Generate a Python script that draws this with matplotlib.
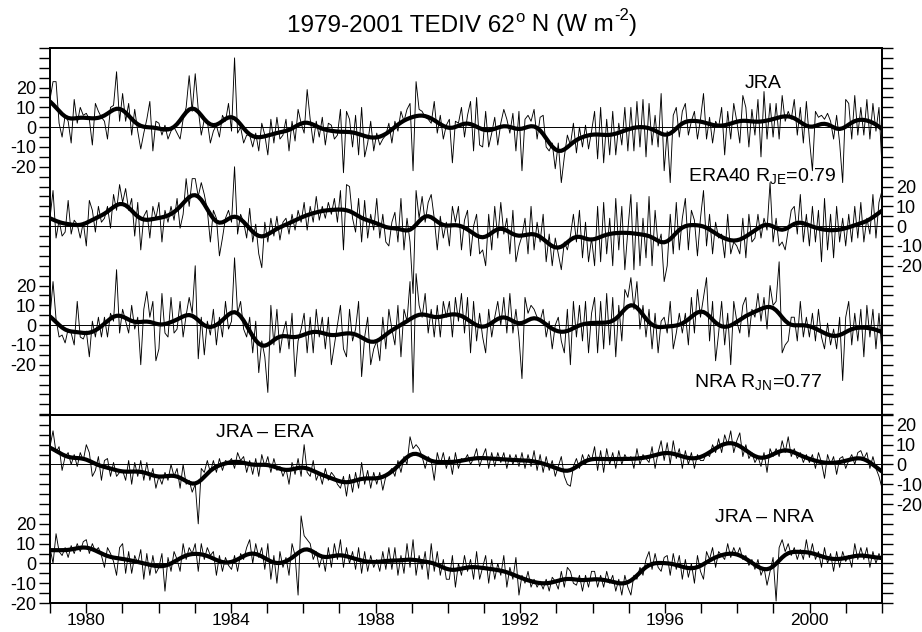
import numpy as np
import matplotlib
matplotlib.use("Agg")
import matplotlib.pyplot as plt
from matplotlib.ticker import FuncFormatter, MultipleLocator

plt.rcParams["font.family"] = ["Liberation Sans", "DejaVu Sans"]
plt.rcParams["mathtext.fontset"] = "custom"
plt.rcParams["mathtext.rm"] = "Liberation Sans"
plt.rcParams["mathtext.it"] = "Liberation Sans:italic"

# monthly TEDIV anomalies (W m-2), Jan 1979 .. Dec 2001, one row per year
jra = [
    [14, 23, 23, 2, -5, 6, 3, -8, 14, 2, 10, 6],
    [7, 4, -9, 12, 8, 5, 3, -6, 10, 11, 28, 3],
    [17, 3, 12, -4, 9, -2, -11, -3, 4, 13, -12, 3],
    [2, -4, 1, -6, -2, 0, -3, -6, 4, 10, 26, 8],
    [27, 9, -4, 4, 3, -8, -2, 1, -5, 6, 3, 12],
    [-2, 35, -3, 0, -8, -4, -4, -10, -3, -12, 2, -4],
    [-14, 4, -8, 5, -6, -4, 4, -12, 3, -7, 9, 2],
    [-3, 19, 4, -8, 3, -5, 5, -9, 2, 1, -6, -4],
    [9, -23, 8, 4, -10, 6, -14, 10, -15, -8, 3, -12],
    [-3, -9, -6, -4, 2, -8, 3, -2, 8, 3, 9, 12],
    [-22, 23, 9, 8, 5, 4, 2, 13, -3, 6, -6, 1],
    [4, -18, 3, 2, 10, -5, 6, 13, -12, 15, -9, -10],
    [8, -10, -3, 5, -9, 2, 9, 4, -3, 7, -12, 8],
    [-22, 4, 6, 3, 9, -6, 5, 6, -10, -12, -8, -21],
    [-8, -28, -15, -4, -9, 2, -13, 0, -10, 1, -11, -2],
    [8, -16, 10, -18, 4, -14, 8, -14, 2, -9, 10, -12],
    [10, -12, 13, -10, 14, -15, 12, -9, 6, -10, 17, -22],
    [-2, -28, 6, 10, -5, 8, 12, -4, 3, 8, -6, 4],
    [17, -6, 5, -8, 3, 0, 10, -14, 8, -6, 12, 3],
    [-8, 16, 10, -10, 9, -4, 14, -15, 18, -6, 12, -5],
    [12, -6, 16, 3, 8, 4, 14, -4, 10, -8, 13, -6],
    [-22, 8, 5, 6, 4, 7, 3, -6, 6, -8, -28, 14],
    [12, -6, 16, -4, 10, -4, 14, -6, 12, -2, 10, -20],
]
era = [
    [4, 18, -6, 3, -5, -3, 13, -4, 3, 1, -6, 2],
    [-10, 13, 8, -3, 10, 2, 4, 10, -1, 16, 8, 21],
    [12, 19, 8, 14, -5, 12, -12, 5, 8, -6, 10, 4],
    [12, -8, 8, 2, 10, 3, 14, -1, 6, 24, 10, 24],
    [24, 15, 22, 16, 8, -8, 8, 4, -15, -6, 4, 8],
    [2, 30, -4, 6, 2, -6, 9, -8, 1, -14, -21, 2],
    [-8, 4, -5, 5, -7, 2, 4, -4, 6, -2, 8, 2],
    [12, -2, 10, 2, 15, 3, 10, 4, 12, 6, 14, 2],
    [18, -12, 21, 20, 4, -3, 14, -8, 13, -6, 6, -2],
    [14, -6, 6, -8, -10, 2, 7, -8, 14, -12, 4, -8],
    [-34, 18, 4, 15, 2, 12, 16, 4, -12, 5, -6, 2],
    [-10, 10, 2, 10, -12, 3, 8, -15, 0, 6, -14, -12],
    [-20, 6, -12, 10, -6, 12, -4, 4, -14, 8, -18, -10],
    [-5, 4, -14, 10, -12, 2, -8, 6, -18, -4, -20, -6],
    [-14, -22, -8, -12, -5, 6, -8, 8, -16, 2, -18, -6],
    [-20, 10, -18, 12, -14, 4, -20, 14, -12, 10, -22, -2],
    [16, -22, 12, -20, 4, -16, 15, -20, 8, -10, -4, -28],
    [-20, 6, -14, 12, -12, 4, 14, -12, 8, 3, -15, 4],
    [18, -10, 6, -14, 2, -6, -4, -16, 6, -14, -8, -10],
    [-14, 4, -16, 6, -8, -6, 6, -6, 4, -2, 22, -8],
    [4, -10, -8, -12, -2, 8, 10, -4, 16, -8, 6, -10],
    [10, -8, 8, -18, 14, -12, 6, -16, 10, -8, 4, -10],
    [6, -8, 10, -6, 12, -8, 4, -4, 16, -6, 12, 18],
]
nra = [
    [4, 22, 3, -6, -5, -9, -2, -4, -10, 12, -6, -7],
    [-3, -16, 2, -6, 4, -6, 4, -6, 6, 2, 28, -4],
    [8, 2, -4, 10, -2, 4, -20, 8, 17, 4, 12, -18],
    [-12, 16, -4, -6, 14, -4, -2, 12, -6, 5, 14, 6],
    [30, -17, 4, -15, 2, -5, 8, -10, 4, -6, 12, -2],
    [2, 34, 6, 12, -2, -6, 4, -14, 2, -24, -8, -16],
    [-34, 10, -10, 8, -14, -4, 2, -12, 6, -26, -8, -2],
    [6, -14, 4, -14, 8, -6, 4, -12, 4, -20, -10, 0],
    [10, -12, -16, 8, -8, -2, 12, -26, -6, 4, -20, -12],
    [-8, -18, 4, -12, 8, -2, -10, 10, -16, 8, 2, 22],
    [-34, 26, 10, 4, 16, -4, 8, -6, 10, -6, 12, 4],
    [12, -6, 14, 2, 16, -4, 14, -14, 12, -8, 6, -6],
    [-14, 8, -6, 4, 12, 0, 14, -4, 16, -4, 8, -6],
    [-27, 14, 6, 10, 8, 4, 2, 8, -6, 2, -12, 0],
    [4, -8, -14, 8, -20, 12, -6, 10, -8, 12, -14, 6],
    [14, -14, 12, -12, 16, -10, 14, -16, 10, -8, 18, 14],
    [24, 8, 22, -2, 10, -6, 8, -12, 6, -14, 2, 4],
    [-4, 12, -12, -4, 6, -4, 6, -10, 14, -4, 18, 4],
    [14, 24, -8, 12, -18, -4, 12, -10, 6, -20, 12, 2],
    [-4, 10, 14, -6, 8, 4, 16, 2, 14, -2, 20, 10],
    [12, 32, -14, -10, -8, 4, 4, -8, 12, -6, 4, -6],
    [6, -8, 8, -6, -12, 1, -10, -2, -12, 4, -28, 4],
    [12, -10, 6, -8, 8, -16, 10, -6, 8, -12, 6, -14],
]
jra_era = [
    [9, 17, 6, 9, -3, 4, 6, 0, 5, -1, 6, 2],
    [10, 6, -6, -3, 4, -8, 2, 3, -6, 1, -6, -4],
    [-3, -8, 2, -10, 1, -6, 2, -8, 1, -8, -2, -12],
    [-6, -10, -4, -8, 0, -6, -2, -12, 0, -10, -8, -14],
    [-10, -30, -2, -4, 2, -4, 2, -4, 3, -3, 2, 1],
    [3, -2, 6, 2, 4, -4, 2, -5, 3, -6, 5, -1],
    [4, -4, 3, -3, -1, -6, -2, -10, 1, -5, 3, -6],
    [10, -4, -6, 2, -8, -4, -10, -2, -8, -4, -6, -10],
    [-12, -6, -16, -5, -14, -4, -12, 1, -10, -3, -12, -4],
    [-10, -4, -13, -6, -4, -2, -6, 2, -4, 4, 0, 14],
    [8, 10, 8, 4, -2, 4, 2, -8, 6, 0, 6, -2],
    [4, -5, 6, -2, 3, 2, 5, 0, 3, 8, -1, 4],
    [8, -2, 6, -1, 6, 1, 6, -2, 5, 0, 5, -1],
    [6, -2, 5, -1, 7, -3, 5, -4, 4, -3, 2, -6],
    [-1, 4, -6, -10, -11, -1, 3, -2, 5, 0, 5, 2],
    [9, -3, 7, -4, 8, 0, 6, -2, 7, 0, 5, 2],
    [4, -2, 8, 0, 5, 3, 1, 9, -2, 6, 12, 2],
    [11, 0, 12, 3, 8, -2, 7, 0, 6, -2, 5, 2],
    [2, 6, 4, 10, 6, 13, 6, 15, 10, 17, 6, 12],
    [16, 4, 10, 3, 6, 1, 4, -1, 6, -4, 8, 4],
    [8, 4, 12, 6, 14, 4, 8, 3, 6, 1, 5, 1],
    [5, -2, 6, 1, -7, 5, 0, 4, -5, 3, 4, -2],
    [2, 5, 0, 6, 7, 3, 6, -2, 4, -2, -6, -12],
]
jra_nra = [
    [8, 0, 15, 6, 4, 8, 3, 9, 5, 10, 6, 11],
    [12, 5, 10, 6, 8, 4, -2, 8, 5, 1, -6, 8],
    [10, -5, 6, -5, 4, 0, 7, -8, 5, -6, 4, -5],
    [-2, 5, -14, 3, -4, 6, 2, -4, 10, 2, 8, 5],
    [10, -4, 10, 2, 8, 4, 6, -6, 4, -4, 3, -1],
    [-3, 4, -4, 5, 2, 8, 12, 0, 10, 3, 8, -3],
    [10, -8, 4, -10, 6, -2, 3, -6, 10, 4, -16, 24],
    [14, 12, 10, 2, 6, -2, 4, -4, 8, -2, 10, 2],
    [12, -2, 8, 0, 6, -3, 8, -5, 6, -4, 4, -2],
    [2, -4, 6, -3, 8, -3, 8, -6, 4, -5, 10, -2],
    [12, -6, 4, -3, 6, -8, 10, -4, 6, -6, 2, -8],
    [-8, 4, -12, 0, -6, 4, -4, 2, -8, 6, -8, -2],
    [4, -10, 2, -8, 0, -6, 4, -12, -2, -8, 3, -16],
    [-6, -10, -4, -12, -8, -12, -9, -13, -8, -14, -7, -9],
    [-13, -4, -12, -2, -4, -10, -11, -6, -14, -6, -12, -4],
    [-4, -12, -6, -12, -4, -10, -6, -14, -8, -16, -6, -12],
    [-16, -6, -8, -2, -6, 2, 6, -3, 5, -2, -4, 3],
    [4, -6, 5, -3, 4, -8, 2, -7, 0, -10, 4, -4],
    [-8, 6, 2, 8, -2, 6, 4, 2, 10, 3, 8, 4],
    [8, 2, 4, -1, 2, -3, 2, -6, -2, -11, -4, 3],
    [-19, 8, 12, 6, 10, 4, 8, 2, 7, 2, 12, 3],
    [10, 2, 6, -2, 8, 0, 5, -4, 6, -2, 6, 1],
    [4, -2, 10, 2, 8, 2, 8, -2, 6, 0, 5, 1],
]

year_ticks = [1980, 1984, 1988, 1992, 1996, 2000]


def smooth(values, sigma=3.0):
    v = np.asarray(values, dtype=float)
    k = np.arange(-int(3 * sigma), int(3 * sigma) + 1)
    w = np.exp(-0.5 * (k / sigma) ** 2)
    num = np.convolve(v, w, mode="same")
    den = np.convolve(np.ones_like(v), w, mode="same")
    return num / den


def labeler(offsets):
    def fmt(y, pos):
        for off in offsets:
            d = y - off
            if abs(d) <= 20.01 and abs(d - round(d / 10) * 10) < 0.01:
                return f"{int(round(d))}"
        return ""
    return FuncFormatter(fmt)


def draw(ax, series, off):
    v = np.ravel(series).astype(float)
    t = np.linspace(1979, 2002, v.size)
    ax.axhline(off, color="black", lw=0.7, zorder=1)
    ax.plot(t, v + off, color="black", lw=0.65, zorder=2)
    ax.plot(t, smooth(v) + off, color="black", lw=3.0, zorder=3, solid_capstyle="round")


fig = plt.figure(figsize=(9.22, 6.32), dpi=100)
left, width = 50 / 922, 832 / 922
ax_top = fig.add_axes([left, 1 - 415 / 632, width, 367 / 632])
ax_bot = fig.add_axes([left, 1 - 603 / 632, width, 188 / 632])

draw(ax_top, jra, 100)
draw(ax_top, era, 50)
draw(ax_top, nra, 0)
draw(ax_bot, jra_era, 50)
draw(ax_bot, jra_nra, 0)

limits = {ax_top: (-45.4, 140), ax_bot: (-20, 75)}
left_offs = {ax_top: [100, 0], ax_bot: [0]}
right_offs = {ax_top: [50], ax_bot: [50]}

for ax in (ax_top, ax_bot):
    ax.set_xlim(1979, 2002)
    ax.set_ylim(*limits[ax])
    ax.yaxis.set_major_locator(MultipleLocator(5))
    ax.yaxis.set_major_formatter(labeler(left_offs[ax]))
    ax.tick_params(axis="y", direction="out", length=8, width=1.0, labelsize=13, pad=2)
    twin = ax.twinx()
    twin.set_ylim(*limits[ax])
    twin.yaxis.set_major_locator(MultipleLocator(5))
    twin.yaxis.set_major_formatter(labeler(right_offs[ax]))
    twin.tick_params(axis="y", direction="out", length=8, width=1.0, labelsize=13, pad=2)
    for a in (ax, twin):
        for s in a.spines.values():
            s.set_linewidth(1.3)

ax_top.tick_params(axis="x", which="both", bottom=False, labelbottom=False)
ax_top.spines["bottom"].set_color("#888888")
ax_bot.spines["top"].set_color("#888888")

ax_bot.set_xticks(year_ticks)
ax_bot.set_xticklabels([str(y) for y in year_ticks])
ax_bot.set_xticks(np.arange(1979, 2003), minor=True)
ax_bot.tick_params(axis="x", which="both", direction="out", length=7, width=1.0,
                   labelsize=12.5, pad=0.5)

ax_top.text(1998.7, 122, "JRA", ha="center", va="center", fontsize=14)
ax_top.text(2000.73, 75.5, r"ERA40 R$_{\rm JE}$=0.79", ha="right", va="center", fontsize=14)
ax_top.text(2000.35, -28.8, r"NRA R$_{\rm JN}$=0.77", ha="right", va="center", fontsize=14)
ax_bot.text(1983.6, 66, "JRA \u2013 ERA", ha="left", va="center", fontsize=14)
ax_bot.text(2000.1, 23, "JRA \u2013 NRA", ha="right", va="center", fontsize=14)

# title built from pieces so the superscripts keep a plain hyphen
t1 = fig.text(287 / 922, 1 - 36.5 / 632, "1979-2001 TEDIV 62", fontsize=17.5,
              ha="left", va="bottom")
s1 = ax_top.annotate("o", xy=(1, 1), xycoords=t1, xytext=(0.5, 3.5),
                     textcoords="offset points", fontsize=12, ha="left", va="top")
t2 = ax_top.annotate(" N (W m", xy=(1, 0), xycoords=(s1, t1), fontsize=17.5,
                     ha="left", va="bottom")
s2 = ax_top.annotate("-2", xy=(1, 1), xycoords=t2, xytext=(0.5, 4.5),
                     textcoords="offset points", fontsize=12, ha="left", va="top")
t3 = ax_top.annotate(")", xy=(1, 0), xycoords=(s2, t1), fontsize=17.5,
                     ha="left", va="bottom")

fig.savefig("out.png", dpi=100)
